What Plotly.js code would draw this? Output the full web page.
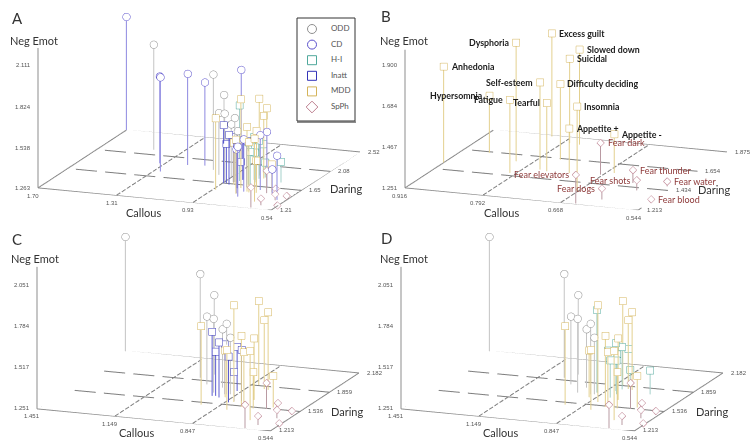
<!DOCTYPE html>
<html><head><meta charset="utf-8"><script src="https://cdn.plot.ly/plotly-3.0.1.min.js"></script>
<style>html,body{margin:0;padding:0;background:#fff}#g{width:754px;height:448px}</style></head>
<body><div id="g"></div>
<script>
// group data: callous, daring, negative emotionality
const odd_callous=[1.451,1.058,1.027,1.001,0.936,0.883,0.931,0.870];
const odd_daring=[2.182,1.893,1.959,1.805,1.695,1.688,1.779,1.693];
const odd_neg=[1.989,1.922,1.765,1.690,1.728,1.707,1.629,1.617];
const cd_callous=[1.70,1.277,1.335,1.202,1.123,0.958,0.714,0.582,0.636,0.775,0.803,0.782,0.721];
const cd_daring=[2.52,1.762,1.925,1.942,1.961,2.008,1.66,1.416,1.505,1.409,1.473,1.519,1.582];
const cd_neg=[2.045,1.914,1.863,1.893,1.838,1.932,1.642,1.569,1.440,1.608,1.566,1.624,1.642];
const hi_callous=[0.870,0.814,0.801,0.822,0.807,0.799,0.810,0.795,0.782,0.680];
const hi_daring=[1.720,1.770,1.802,1.930,1.663,1.666,1.772,1.723,1.838,1.768];
const hi_neg=[1.786,1.561,1.526,1.460,1.556,1.492,1.488,1.470,1.367,1.406];
const in_callous=[0.924,0.892,0.912,0.889,0.834,0.864,0.798,0.824];
const in_daring=[1.645,1.630,1.650,1.686,1.571,1.750,1.612,1.602];
const in_neg=[1.666,1.608,1.537,1.574,1.548,1.537,1.582,1.438];
const mdd_labels=["Anhedonia","Dysphoria","Excess guilt","Slowed down","Suicidal","Self-esteem","Difficulty deciding","Hypersomnia","Fatigue","Tearful","Insomnia","Appetite +","Appetite -"];
const mdd_callous=[0.916,0.818,0.821,0.765,0.782,0.767,0.760,0.873,0.802,0.754,0.669,0.719,0.656];
const mdd_daring=[1.502,1.584,1.866,1.810,1.816,1.523,1.643,1.643,1.462,1.513,1.341,1.517,1.558];
const mdd_neg=[1.758,1.877,1.795,1.753,1.697,1.711,1.649,1.553,1.637,1.611,1.698,1.486,1.456];
const mdd_side=["r","l","r","r","r","l","r","l","l","l","r","r","r"];
const sp_labels=["Fear dark","Fear thunder","Fear water","Fear shots","Fear elevators","Fear dogs","Fear blood"];
const sp_callous=[0.672,0.609,0.554,0.588,0.645,0.617,0.544];
const sp_daring=[1.530,1.476,1.474,1.406,1.217,1.281,1.307];
const sp_neg=[1.418,1.319,1.277,1.305,1.402,1.309,1.263];
const sp_side=["r","r","r","l","l","l","r"];
// axis ticks per panel
const A_cal=["1.70","1.31","0.93","0.54"],A_dar=["1.21","1.65","2.08","2.52"],A_neg=["1.263","1.538","1.824","2.111"];
const B_cal=["0.916","0.792","0.668","0.544"],B_dar=["1.213","1.434","1.654","1.875"],B_neg=["1.251","1.467","1.684","1.900"];
const C_cal=["1.451","1.149","0.847","0.544"],C_dar=["1.213","1.536","1.859","2.182"],C_neg=["1.251","1.517","1.784","2.051"];
const legend_labels=["ODD","CD","H-I","Inatt","MDD","SpPh"];
const colors={ODD:["#8f8f8f","#c4c4c4"],CD:["#5a50cc","#8d88e0"],"H-I":["#4fa89c","#a5d0ca"],Inatt:["#3434b8","#5c5cd0"],MDD:["#d4b45a","#e3d08f"],SpPh:["#bd8090","#b99aa2"]};
const symbols={ODD:"circle",CD:"circle","H-I":"square",Inatt:"square",MDD:"square",SpPh:"diamond"};
const glSize={circle:4.4,square:3.7,diamond:2.5};
const groups={ODD:[odd_callous,odd_daring,odd_neg],CD:[cd_callous,cd_daring,cd_neg],"H-I":[hi_callous,hi_daring,hi_neg],Inatt:[in_callous,in_daring,in_neg],MDD:[mdd_callous,mdd_daring,mdd_neg],SpPh:[sp_callous,sp_daring,sp_neg]};

const W=754,H=448;
const SCALE=2.27;
const eyeDir=[-0.904,-0.342,0.247],eyeDist=10;
const panels=[
 {id:"scene",name:"A",cal:A_cal,dar:A_dar,neg:A_neg,pxu:145,zTop:2.229,cx:199,cy:110,g:["ODD","CD","H-I","Inatt","MDD","SpPh"]},
 {id:"scene2",name:"B",cal:B_cal,dar:B_dar,neg:B_neg,pxu:190,zTop:1.979,cx:566,cy:110,g:["MDD","SpPh"]},
 {id:"scene3",name:"C",cal:C_cal,dar:C_dar,neg:C_neg,pxu:155,zTop:2.169,cx:198,cy:330.6,g:["ODD","Inatt","MDD","SpPh"]},
 {id:"scene4",name:"D",cal:C_cal,dar:C_dar,neg:C_neg,pxu:155,zTop:2.169,cx:562,cy:330.6,g:["ODD","H-I","MDD","SpPh"]}
];
const data=[],layout={width:W,height:H,margin:{l:0,r:0,t:0,b:0},paper_bgcolor:"#fff",plot_bgcolor:"#fff",showlegend:false,annotations:[],shapes:[],
 xaxis:{domain:[298/W,354/W],range:[0,56],visible:false,fixedrange:true},
 yaxis:{domain:[1-121/H,1-19/H],range:[102,0],visible:false,fixedrange:true}};
const tickFont={family:"Liberation Sans",size:6,color:"#555"};
panels.forEach(p=>{
 const cv=p.cal.map(Number),dv=p.dar.map(Number),nv=p.neg.map(Number);
 const cLo=cv[3],cHi=cv[0],dLo=dv[0],dHi=dv[3],z0=nv[0];
 const zlo=z0-30/p.pxu,zhi=zlo+180/p.pxu;
 const base={scene:p.id,type:"scatter3d",showlegend:false,hoverinfo:"skip"};
 data.push({...base,mode:"lines",x:[dLo,dHi,dHi,dLo,dLo,null,dLo,dLo],y:[cHi,cHi,cLo,cLo,cHi,null,cHi,cHi],z:[z0,z0,z0,z0,z0,null,z0,p.zTop],line:{color:"#8c8c8c",width:2}});
 // dashed guide lines across the floor at the two middle ticks
 const dx=[],dy=[],dz=[];
 const dashLine=(x0,y0,x1,y1,n)=>{for(let k=0;k<n;k++){const a=k/n,b=(k+0.72)/n;dx.push(x0+(x1-x0)*a,x0+(x1-x0)*b,null);dy.push(y0+(y1-y0)*a,y0+(y1-y0)*b,null);dz.push(z0,z0,null);}};
 [1,2].forEach(i=>{dashLine(dv[i],cLo,dv[i],cHi,8);dashLine(dLo,cv[i],dHi,cv[i],17);});
 data.push({...base,mode:"lines",x:dx,y:dy,z:dz,line:{color:"#7e7e7e",width:2}});
 p.g.forEach(g=>{
  const [c,d,n]=groups[g];const sx=[],sy=[],sz=[];
  c.forEach((_,i)=>{sx.push(d[i],d[i],null);sy.push(c[i],c[i],null);sz.push(z0,n[i],null);});
  data.push({...base,mode:"lines",x:sx,y:sy,z:sz,line:{color:colors[g][1],width:2}});
 });
 p.g.forEach(g=>{
  const [c,d,n]=groups[g];
  data.push({...base,mode:"markers",x:d,y:c,z:n,marker:{symbol:symbols[g],size:glSize[symbols[g]],color:"#fff",opacity:1,line:{color:colors[g][0],width:1}}});
 });
 const ann=[];
 p.neg.forEach((t,i)=>ann.push({x:dLo,y:cHi,z:nv[i],text:t,showarrow:false,xanchor:"right",xshift:-5,font:tickFont}));
 p.cal.forEach((t,i)=>ann.push({x:dLo,y:cv[i],z:z0,text:t,showarrow:false,xanchor:"center",yanchor:"top",yshift:-3,xshift:-5,font:tickFont}));
 p.dar.forEach((t,i)=>ann.push({x:dv[i],y:cLo,z:z0,text:t,showarrow:false,xanchor:"left",xshift:6,font:tickFont}));
 if(p.name==="B"){
  const lab=(names,c,d,n,side,col,fam,sz)=>names.forEach((t,i)=>ann.push({x:d[i],y:c[i],z:n[i],text:t,showarrow:false,xanchor:side[i]==="r"?"left":"right",xshift:side[i]==="r"?5:-5,font:{family:"Lato",size:sz,color:col,weight:fam}}));
  lab(mdd_labels,mdd_callous,mdd_daring,mdd_neg,mdd_side,"#1a1a1a",700,8.8);
  lab(sp_labels,sp_callous,sp_daring,sp_neg,sp_side,"#8e3a3a",400,9);
 }
 layout[p.id]={domain:{x:[(p.cx-180)/W,(p.cx+180)/W],y:[1-(p.cy+110)/H,1-(p.cy-110)/H]},bgcolor:"rgba(0,0,0,0)",
  aspectmode:"manual",aspectratio:{x:SCALE,y:SCALE,z:SCALE*0.743},
  camera:{eye:{x:eyeDir[0]*eyeDist,y:eyeDir[1]*eyeDist,z:eyeDir[2]*eyeDist},up:{x:0,y:0,z:1},center:{x:0,y:0,z:0},projection:{type:"orthographic"}},
  xaxis:{visible:false,range:[dLo,dHi]},yaxis:{visible:false,range:[cLo,cHi]},zaxis:{visible:false,range:[zlo,zhi]},annotations:ann};
});
legend_labels.forEach((g,i)=>data.push({type:"scatter",mode:"markers+text",x:[14],y:[10+i*15.6],text:["      "+g],textposition:"middle right",cliponaxis:false,hoverinfo:"skip",
 textfont:{family:"Lato",size:8,color:"#555"},marker:{symbol:symbols[g]+"-open",size:9,color:colors[g][0],line:{width:1,color:colors[g][0]}}}));
const pt=(x,y,text,size,extra)=>Object.assign({xref:"paper",yref:"paper",x:x/W,y:1-y/H,text,showarrow:false,xanchor:"left",yanchor:"middle",font:{family:"Lato",size,color:"#333"}},extra||{});
[[10,18,"A"],[379,16,"B"],[10,239,"C"],[379,238,"D"]].forEach(a=>layout.annotations.push(pt(a[0],a[1],a[2],15)));
[[8,41,"Neg Emot"],[378,41,"Neg Emot"],[9,258,"Neg Emot"],[378,258,"Neg Emot"],
 [124,212,"Callous"],[482,212,"Callous"],[117,432,"Callous"],[481,432,"Callous"],
 [328,188,"Daring"],[696,189,"Daring"],[329,411,"Daring"],[694,411,"Daring"]].forEach(a=>layout.annotations.push(pt(a[0],a[1],a[2],11)));
const sh=(x0,y0,x1,y1,c,w)=>({type:"rect",xref:"paper",yref:"paper",x0:x0/W,x1:x1/W,y0:1-y0/H,y1:1-y1/H,line:{color:c,width:w},fillcolor:"rgba(0,0,0,0)"});
layout.shapes.push(sh(297,18,355,121,"#333",1));
layout.shapes.push({type:"line",xref:"paper",yref:"paper",x0:297/W,x1:356/W,y0:1-122/H,y1:1-122/H,line:{color:"#666",width:1.5}});
Plotly.newPlot("g",data,layout,{displayModeBar:false});
</script></body></html>
